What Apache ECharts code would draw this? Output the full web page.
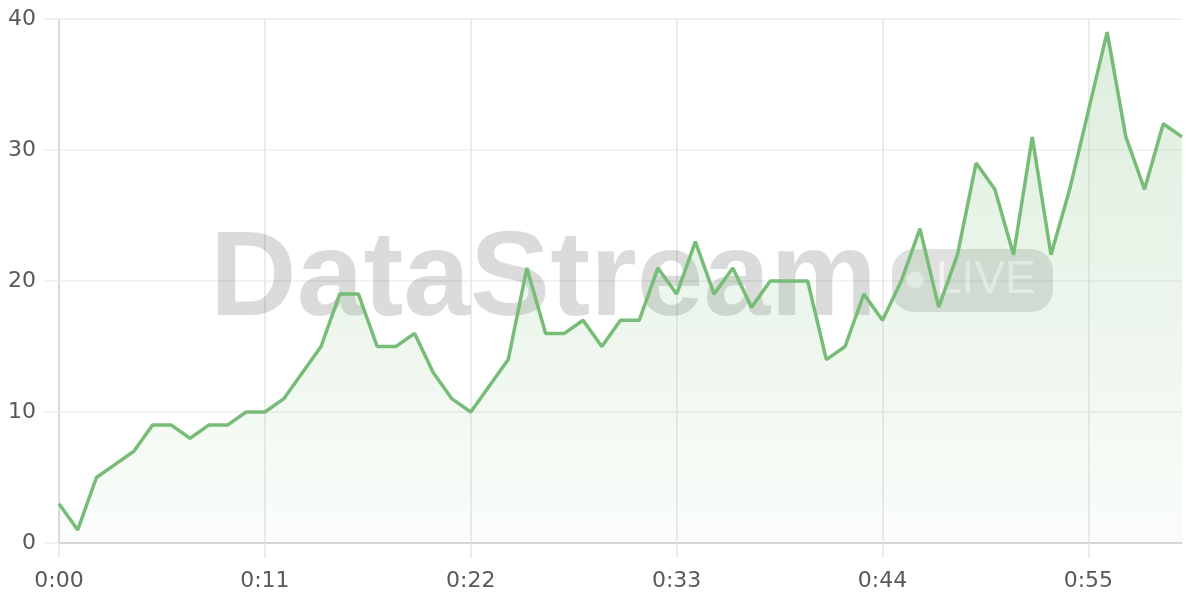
<!DOCTYPE html>
<html>
<head>
<meta charset="utf-8">
<script src="https://cdn.jsdelivr.net/npm/echarts@6/dist/echarts.min.js"></script>
<style>
html,body{margin:0;padding:0;background:#fff;}
#chart{width:1200px;height:600px;}
</style>
</head>
<body>
<div id="chart"></div>
<script>
const seconds = [];
for (let s = 0; s <= 60; s++) seconds.push(s);
const categories = seconds.map(s => Math.floor(s / 60) + ':' + String(s % 60).padStart(2, '0'));
const values = [3, 1, 5, 6, 7, 9, 9, 8, 9, 9,
  10, 10, 11, 13, 15, 19, 19, 15, 15, 16,
  13, 11, 10, 12, 14, 21, 16, 16, 17, 15,
  17, 17, 21, 19, 23, 19, 21, 18, 20, 20,
  20, 14, 15, 19, 17, 20, 24, 18, 22, 29,
  27, 22, 31, 22, 27, 33, 39, 31, 27, 32, 31];
const yTicks = [0, 10, 20, 30, 40];
const watermarkTitle = 'DataStream';
const watermarkBadge = 'LIVE';

const chart = echarts.init(document.getElementById('chart'));
const green = '#77bc77';
const labelFont = { color: '#595959', fontSize: 22, fontFamily: 'DejaVu Sans' };
chart.setOption({
  animation: false,
  grid: { left: 59, right: 18, top: 19, bottom: 57 },
  xAxis: {
    type: 'category',
    data: categories,
    boundaryGap: false,
    axisLine: { lineStyle: { color: '#d0d0d0', width: 1.5 } },
    axisTick: { show: true, interval: 10, length: 15, lineStyle: { color: '#e6e6e6', width: 1.5 } },
    axisLabel: Object.assign({ interval: 10, margin: 27 }, labelFont),
    splitLine: { show: true, interval: 10, lineStyle: { color: '#e6e6e6', width: 1.5 } }
  },
  yAxis: {
    type: 'value',
    min: yTicks[0],
    max: yTicks[yTicks.length - 1],
    interval: 10,
    axisLine: { show: true, lineStyle: { color: '#d5d5d5', width: 1.5 } },
    axisTick: { show: true, length: 16, lineStyle: { color: '#eeeeee', width: 1.5 } },
    axisLabel: Object.assign({ margin: 23 }, labelFont),
    splitLine: { lineStyle: { color: '#eeeeee', width: 1.5 } }
  },
  series: [{
    type: 'line',
    z: 5,
    data: values,
    symbol: 'none',
    lineStyle: { color: green, width: 3.5 },
    itemStyle: { color: green },
    areaStyle: {
      color: new echarts.graphic.LinearGradient(0, 0, 0, 1, [
        { offset: 0, color: 'rgba(119,188,119,0.36)' },
        { offset: 1, color: 'rgba(119,188,119,0.05)' }
      ])
    }
  }],
  graphic: [
    {
      type: 'text', z: 1, left: 210, top: 222,
      style: {
        text: watermarkTitle,
        font: 'bold 120px "Liberation Sans"',
        fill: 'rgba(0,0,0,0.14)'
      }
    },
    {
      type: 'rect', z: 1,
      shape: { x: 892, y: 249, width: 161, height: 63, r: 22 },
      style: { fill: 'rgba(0,0,0,0.12)' }
    },
    {
      type: 'circle', z: 2,
      shape: { cx: 915, cy: 280, r: 8.5 },
      style: { fill: 'rgba(255,255,255,0.6)' }
    },
    {
      type: 'text', z: 2, left: 936, top: 257,
      style: {
        text: watermarkBadge,
        font: '46px "Liberation Sans"',
        fill: 'rgba(255,255,255,0.6)'
      }
    }
  ]
});
</script>
</body>
</html>
